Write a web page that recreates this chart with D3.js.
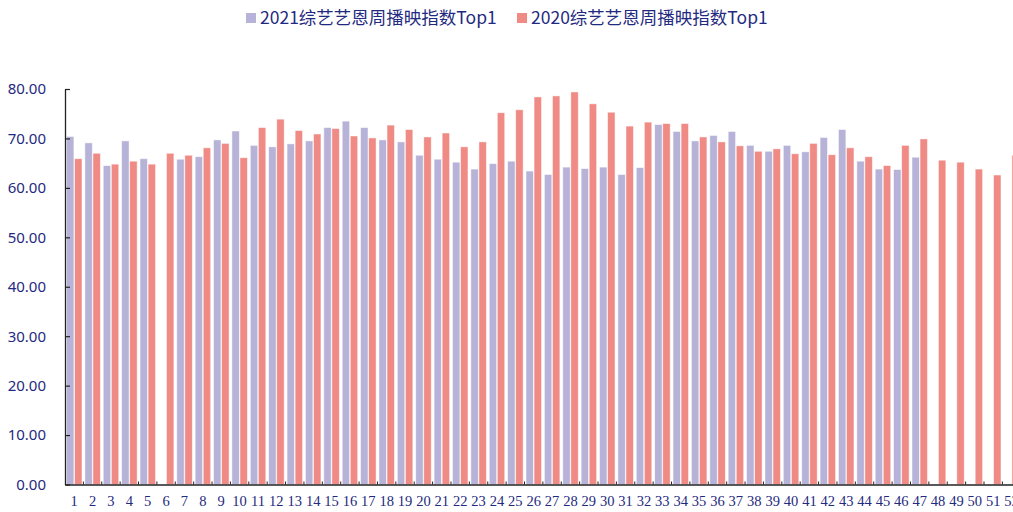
<!DOCTYPE html>
<html>
<head>
<meta charset="utf-8">
<script src="https://cdn.jsdelivr.net/npm/d3@7"></script>
<style>
  body { margin: 0; background: #fff; }
  svg { display: block; }
</style>
</head>
<body>
<div id="wrapper"></div>
<script>
// semaines 1..52
var weeks = d3.range(1, 53);

// 2021 (s'arrete a la semaine 47)
var top2021 = [70.4, 69.1, 64.5, 69.5, 65.9, null, 65.8, 66.3, 69.7, 71.5,
               68.6, 68.3, 68.9, 69.5, 72.2, 73.5, 72.2, 69.7, 69.3, 66.6,
               65.8, 65.2, 63.8, 64.9, 65.4, 63.4, 62.7, 64.2, 63.9, 64.2,
               62.7, 64.1, 72.8, 71.4, 69.5, 70.6, 71.4, 68.6, 67.4, 68.6,
               67.3, 70.2, 71.8, 65.4, 63.8, 63.7, 66.2];

// 2020
var top2020 = [65.9, 67.0, 64.8, 65.4, 64.8, 67.0, 66.6, 68.1, 69.0, 66.1,
               72.2, 73.9, 71.6, 70.9, 72.0, 70.5, 70.1, 72.7, 71.8, 70.3,
               71.1, 68.3, 69.3, 75.2, 75.8, 78.4, 78.6, 79.4, 77.0, 75.3,
               72.5, 73.3, 73.0, 73.0, 70.3, 69.3, 68.5, 67.4, 67.9, 66.9,
               69.0, 66.7, 68.1, 66.3, 64.5, 68.6, 69.9, 65.6, 65.2, 63.8,
               62.6, 66.6];

var seriesNames = ['2021综艺艺恩周播映指数Top1', '2020综艺艺恩周播映指数Top1'];
var seriesColors = ['#b7b3d8', '#f08a85'];
var yTicks = [0, 10, 20, 30, 40, 50, 60, 70, 80];

var W = 1013, H = 512;
var x0 = 65, yTop = 89, yBot = 484.5, step = 18.38;
var navy = '#1f2a80';

var svg = d3.select('#wrapper').append('svg')
  .attr('width', W).attr('height', H);

var x = d3.scaleBand().domain(weeks)
  .range([x0, x0 + step * weeks.length]).padding(0);
var xs = d3.scaleBand().domain([0, 1])
  .range([1.5, 17]).paddingInner(0.08);
var y = d3.scaleLinear().domain([0, 80]).range([yBot, yTop]);

var data = weeks.map(function (w, i) {
  return { w: w, v: [top2021[i], top2020[i]] };
});

var g = svg.selectAll('g.wk').data(data).enter().append('g')
  .attr('class', 'wk')
  .attr('transform', function (d) { return 'translate(' + x(d.w) + ',0)'; });

g.selectAll('rect')
  .data(function (d) { return d.v.map(function (v, k) { return { k: k, v: v }; }); })
  .enter().filter(function (d) { return d.v != null; })
  .append('rect')
  .attr('x', function (d) { return xs(d.k); })
  .attr('width', xs.bandwidth())
  .attr('y', function (d) { return y(d.v); })
  .attr('height', function (d) { return y(0) - y(d.v); })
  .attr('fill', function (d) { return seriesColors[d.k]; })
  .attr('stroke', '#fff').attr('stroke-opacity', 0.6).attr('stroke-width', 0.8);

// axe Y
var yAxis = svg.append('g').attr('transform', 'translate(' + x0 + ',0)')
  .call(d3.axisLeft(y).tickValues(yTicks).tickSizeInner(-5).tickSizeOuter(0)
    .tickFormat(d3.format('.2f')).tickPadding(19));
yAxis.select('.domain').attr('stroke', '#222').attr('stroke-width', 1.3);
yAxis.selectAll('.tick line').attr('stroke', '#222').attr('stroke-width', 1.2);
yAxis.selectAll('text').attr('fill', navy)
  .style('font', '15px "Noto Sans", sans-serif');

// axe X
var xAxis = svg.append('g').attr('transform', 'translate(0,' + yBot + ')')
  .call(d3.axisBottom(x).tickSize(0).tickPadding(11));
xAxis.select('.domain').attr('stroke', '#222').attr('stroke-width', 1.3);
xAxis.selectAll('text').attr('fill', navy)
  .style('font', '14.5px "Liberation Serif", serif');
// petites graduations entre les semaines
svg.append('g').selectAll('line').data(weeks).enter().append('line')
  .attr('x1', function (d) { return x(d) + x.bandwidth(); })
  .attr('x2', function (d) { return x(d) + x.bandwidth(); })
  .attr('y1', yBot).attr('y2', yBot - 3)
  .attr('stroke', '#222').attr('stroke-width', 1);

// legende
var leg = svg.append('g').attr('transform', 'translate(246,0)');
var legX = [0, 271];
seriesNames.forEach(function (n, k) {
  leg.append('rect').attr('x', legX[k]).attr('y', 13).attr('width', 10).attr('height', 10)
    .attr('fill', seriesColors[k]);
  leg.append('text').attr('x', legX[k] + 14).attr('y', 24).text(n)
    .attr('fill', navy)
    .style('font', '17.5px "Noto Sans CJK SC", "Noto Sans", sans-serif');
});
</script>
</body>
</html>
